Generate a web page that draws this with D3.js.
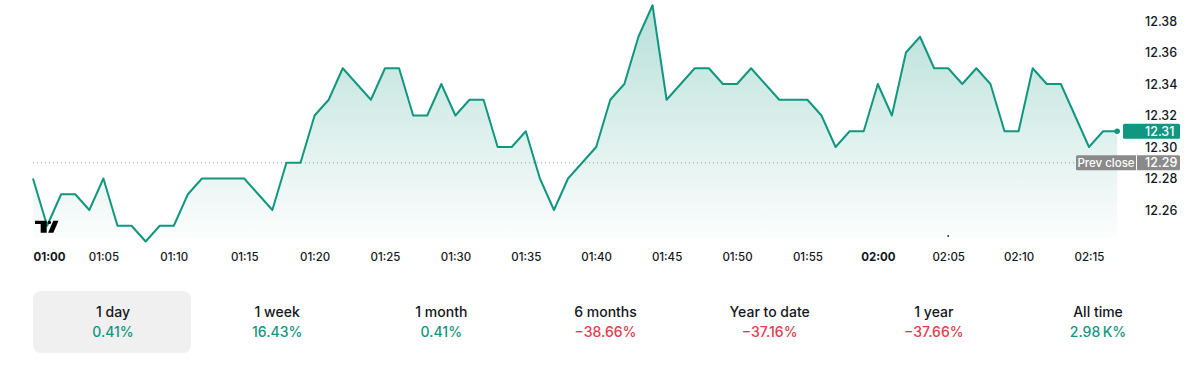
<!DOCTYPE html>
<html>
<head>
<meta charset="utf-8">
<script src="https://cdn.jsdelivr.net/npm/d3@7"></script>
<style>
  body { margin: 0; background: #fff; font-family: Inter, "Noto Sans", sans-serif; }
  svg text { font-family: Inter, "Noto Sans", sans-serif; }
</style>
</head>
<body>
<svg id="chart"></svg>
<script>
// price per minute, 01:00 .. 02:17
var prices = [
  12.28, 12.25, 12.27, 12.27, 12.26, 12.28, 12.25, 12.25, 12.24, 12.25,
  12.25, 12.27, 12.28, 12.28, 12.28, 12.28, 12.27, 12.26, 12.29, 12.29,
  12.32, 12.33, 12.35, 12.34, 12.33, 12.35, 12.35, 12.32, 12.32, 12.34,
  12.32, 12.33, 12.33, 12.30, 12.30, 12.31, 12.28, 12.26, 12.28, 12.29,
  12.30, 12.33, 12.34, 12.37, 12.39, 12.33, 12.34, 12.35, 12.35, 12.34,
  12.34, 12.35, 12.34, 12.33, 12.33, 12.33, 12.32, 12.30, 12.31, 12.31,
  12.34, 12.32, 12.36, 12.37, 12.35, 12.35, 12.34, 12.35, 12.34, 12.31,
  12.31, 12.35, 12.34, 12.34, 12.32, 12.30, 12.31, 12.31
];
var yTicks = [12.26, 12.28, 12.30, 12.32, 12.34, 12.36, 12.38];
var prevClose = 12.29;
var lastPrice = 12.31;

var periods = ['1 day', '1 week', '1 month', '6 months', 'Year to date', '1 year', 'All time'];
var changes = ['0.41%', '16.43%', '0.41%', '\u221238.66%', '\u221237.16%', '\u221237.66%', '2.98\u2009K%'];
var positive = [true, true, true, false, false, false, true];

var green = '#119680';
var red = '#e23d4e';

function drawChart() {
  var chart = d3.select('#chart')
    .attr('width', 1200)
    .attr('height', 368);

  var t0 = new Date(2024, 0, 1, 1, 0);
  var data = prices.map((p, i) => ({ t: d3.timeMinute.offset(t0, i), v: p }));

  var x = d3.scaleTime()
    .domain([t0, d3.timeMinute.offset(t0, 75)])
    .range([33, 1089]);
  var y = d3.scaleLinear()
    .domain([12.24, 12.39])
    .range([241.5, 5.25]);

  // gradient for area
  var defs = chart.append('defs');
  var grad = defs.append('linearGradient')
    .attr('id', 'fade')
    .attr('x1', 0).attr('x2', 0).attr('y1', 0).attr('y2', 1);
  grad.append('stop').attr('offset', '0%').attr('stop-color', green).attr('stop-opacity', 0.3);
  grad.append('stop').attr('offset', '100%').attr('stop-color', green).attr('stop-opacity', 0.01);

  var bottom = 238;
  var area = d3.area()
    .x(d => x(d.t))
    .y0(bottom)
    .y1(d => y(d.v));
  chart.append('path')
    .datum(data)
    .attr('d', area)
    .attr('fill', 'url(#fade)');

  // prev close dotted line
  chart.append('line')
    .attr('x1', 33).attr('x2', 1076)
    .attr('y1', y(prevClose)).attr('y2', y(prevClose))
    .attr('stroke', '#9b9b9b')
    .attr('stroke-width', 1)
    .attr('stroke-dasharray', '1,3');

  var line = d3.line()
    .x(d => x(d.t))
    .y(d => y(d.v));
  chart.append('path')
    .datum(data)
    .attr('d', line)
    .attr('fill', 'none')
    .attr('stroke', green)
    .attr('stroke-width', 2)
    .attr('stroke-linejoin', 'round');

  var last = data[data.length - 1];
  chart.append('circle')
    .attr('cx', x(last.t)).attr('cy', y(last.v))
    .attr('r', 2.8)
    .attr('fill', green);

  // small session marker dot
  chart.append('circle')
    .attr('cx', x(d3.timeMinute.offset(t0, 65.3))).attr('cy', 236)
    .attr('r', 1)
    .attr('fill', '#333');

  // y axis labels
  var yAxis = d3.axisRight(y)
    .tickValues(yTicks)
    .tickSize(0)
    .tickFormat(d3.format('.2f'));
  var gy = chart.append('g')
    .attr('transform', 'translate(1140,0)')
    .call(yAxis);
  gy.select('.domain').remove();
  gy.selectAll('text')
    .attr('x', 5)
    .attr('font-size', 12.5)
    .attr('font-weight', 500)
    .attr('fill', '#131722');

  // last price label
  chart.append('rect')
    .attr('x', 1123).attr('y', y(lastPrice) - 7.5)
    .attr('width', 57).attr('height', 15)
    .attr('rx', 1.5)
    .attr('fill', green);
  chart.append('text')
    .attr('x', 1145).attr('y', y(lastPrice))
    .attr('dy', '0.35em')
    .attr('font-size', 12.5)
    .attr('font-weight', 500)
    .attr('fill', '#fff')
    .text(d3.format('.2f')(lastPrice));

  // prev close label
  var pc = chart.append('g').attr('transform', `translate(0,${y(prevClose)})`);
  pc.append('rect')
    .attr('x', 1076).attr('y', -7.5)
    .attr('width', 104).attr('height', 15)
    .attr('rx', 1.5)
    .attr('fill', '#8a8a8a');
  pc.append('line')
    .attr('x1', 1136.5).attr('x2', 1136.5)
    .attr('y1', -7.5).attr('y2', 7.5)
    .attr('stroke', '#fff').attr('stroke-width', 1);
  pc.append('text')
    .attr('x', 1106).attr('dy', '0.35em')
    .attr('text-anchor', 'middle')
    .attr('font-size', 11.5)
    .attr('font-weight', 500)
    .attr('fill', '#fff')
    .text('Prev close');
  pc.append('text')
    .attr('x', 1145).attr('dy', '0.35em')
    .attr('font-size', 12.5)
    .attr('font-weight', 500)
    .attr('fill', '#fff')
    .text(d3.format('.2f')(prevClose));

  // x axis
  var xAxis = d3.axisBottom(x)
    .ticks(d3.timeMinute.every(5))
    .tickSize(0)
    .tickFormat(d3.timeFormat('%H:%M'));
  var gx = chart.append('g')
    .attr('transform', 'translate(0,250)')
    .call(xAxis);
  gx.select('.domain').remove();
  gx.selectAll('text')
    .attr('y', 7)
    .attr('dy', '0.35em')
    .attr('font-size', 11.5)
    .attr('fill', '#131722')
    .attr('font-weight', d => d.getMinutes() === 0 ? 700 : 500)
    .attr('text-anchor', (d, i) => i === 0 ? 'start' : 'middle');

  // tradingview logo
  var logo = chart.append('g').attr('fill', '#000');
  logo.append('path').attr('d', 'M35,220.7 H46.7 V232.7 H40.7 V224 H35 Z');
  logo.append('circle').attr('cx', 49.4).attr('cy', 222.4).attr('r', 1.7);
  logo.append('path').attr('d', 'M53.3,220.7 H58.5 L53.3,232.7 H48.1 Z');

  // period tabs
  var tabX = d3.scalePoint()
    .domain(periods)
    .range([113, 1098]);
  chart.append('rect')
    .attr('x', 33).attr('y', 291)
    .attr('width', 158).attr('height', 62)
    .attr('rx', 8)
    .attr('fill', '#f0f0f0');
  var tabs = chart.selectAll('g.tab')
    .data(periods).enter()
    .append('g')
    .classed('tab', true)
    .attr('transform', d => `translate(${tabX(d)},0)`);
  tabs.append('text')
    .attr('y', 317)
    .attr('text-anchor', 'middle')
    .attr('font-size', 14)
    .attr('font-weight', 500)
    .attr('fill', '#131722')
    .text(d => d);
  tabs.append('text')
    .attr('y', 337)
    .attr('text-anchor', 'middle')
    .attr('font-size', 14)
    .attr('font-weight', 500)
    .attr('fill', (d, i) => positive[i] ? green : red)
    .text((d, i) => changes[i]);
}

drawChart();
</script>
</body>
</html>
